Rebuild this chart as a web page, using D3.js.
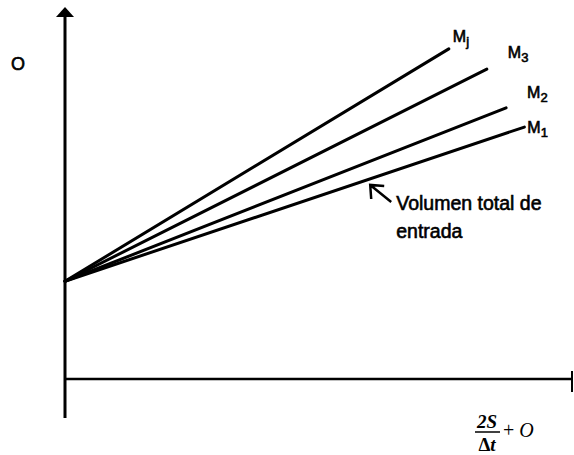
<!DOCTYPE html>
<html>
<head>
<meta charset="utf-8">
<script src="https://cdn.jsdelivr.net/npm/d3@7"></script>
<style>
	html, body { margin: 0; padding: 0; background: #fff; }
	svg { display: block; }
	text { font-family: Arial, "Liberation Sans", sans-serif; fill: #000; }
	.sans { stroke: #000; stroke-width: 0.6; }
	.serif { font-family: "Times New Roman", "Liberation Serif", serif; }
</style>
</head>
<body>
<svg width="574" height="455"></svg>
<script>
'use strict';
// data (arbitrary units: 0..100 on both axes)
let aSeries = ["Mj", "M3", "M2", "M1"]
let aSubs = ["j", "3", "2", "1"]
let aStartX = [0, 0, 0, 0]
let aStartY = [27, 27, 27, 27]
let aEndX = [75.7, 83.2, 87.0, 90.6]
let aEndY = [91.2, 85.6, 74.9, 69.6]
let aNote = ["Volumen total de", "entrada"]
let aNoteAt = [60.2, 53.6] // where the annotation arrow points

// DOM references and script-globals
let eSvg = d3.select("svg"),
	dWidth = +eSvg.attr("width"),
	dHeight = +eSvg.attr("height")

let sX = d3.scaleLinear().domain([0, 100]).range([65, 572])
let sY = d3.scaleLinear().domain([0, 100]).range([379, 17])

// label offsets from the line end, pixels
let aLabOff = [[4, -7], [21, -11], [21, -10], [3, 6]]

// axes
let eAxes = eSvg.append("g").attr("class", "axes")
eAxes.append("line")
	.attr("x1", sX(0)).attr("x2", sX(0))
	.attr("y1", sY(0) + 39).attr("y2", sY(100))
	.attr("stroke", "#000").attr("stroke-width", 3)
eAxes.append("path")
	.attr("d", `M${sX(0) - 9},${sY(100)} L${sX(0) + 9},${sY(100)} L${sX(0)},${sY(100) - 10} Z`)
	.attr("fill", "#000")
eAxes.append("line")
	.attr("x1", sX(0)).attr("x2", sX(100))
	.attr("y1", sY(0)).attr("y2", sY(0))
	.attr("stroke", "#000").attr("stroke-width", 2.5)
eAxes.append("line") // end tick of x axis
	.attr("x1", sX(100)).attr("x2", sX(100))
	.attr("y1", sY(0) - 8).attr("y2", sY(0) + 13)
	.attr("stroke", "#000").attr("stroke-width", 2)

// the M lines
let eLines = eSvg.append("g").attr("class", "lines")
	.selectAll("line")
	.data(aSeries)
	.enter().append("line")
	.attr("x1", (d, i) => sX(aStartX[i]))
	.attr("y1", (d, i) => sY(aStartY[i]))
	.attr("x2", (d, i) => sX(aEndX[i]))
	.attr("y2", (d, i) => sY(aEndY[i]))
	.attr("stroke", "#000").attr("stroke-width", 3)
	.attr("stroke-linecap", "round")

// labels with subscript
let eLabs = eSvg.append("g").attr("class", "labels")
	.selectAll("text")
	.data(aSeries)
	.enter().append("text")
	.attr("class", "sans")
	.attr("x", (d, i) => sX(aEndX[i]) + aLabOff[i][0])
	.attr("y", (d, i) => sY(aEndY[i]) + aLabOff[i][1])
	.attr("font-size", 16)
eLabs.append("tspan").text("M")
eLabs.append("tspan")
	.attr("font-size", 13).attr("dy", 4)
	.text((d, i) => aSubs[i])

// annotation
let pTip = [sX(aNoteAt[0]), sY(aNoteAt[1])]
let eNote = eSvg.append("g").attr("class", "note")
eNote.append("path")
	.attr("d", `M${pTip[0] + 21},${pTip[1] + 17} L${pTip[0]},${pTip[1]}`
		+ ` M${pTip[0] + 14},${pTip[1] + 1} L${pTip[0]},${pTip[1]} L${pTip[0] + 1},${pTip[1] + 14}`)
	.attr("fill", "none").attr("stroke", "#000").attr("stroke-width", 2.5)
eNote.selectAll("text")
	.data(aNote)
	.enter().append("text")
	.attr("class", "sans")
	.attr("x", pTip[0] + 26)
	.attr("y", (d, i) => pTip[1] + 25 + i * 28)
	.attr("font-size", 19.5)
	.text(d => d)

// axis titles
eSvg.append("text")
	.attr("class", "sans")
	.attr("x", 11).attr("y", 70)
	.attr("font-size", 18)
	.text("O")

let eXT = eSvg.append("g")
eXT.append("text").attr("class", "serif")
	.attr("x", 487).attr("y", 428)
	.attr("text-anchor", "middle")
	.attr("font-size", 19).attr("font-weight", "bold").attr("font-style", "italic")
	.text("2S")
eXT.append("line")
	.attr("x1", 475).attr("x2", 500)
	.attr("y1", 432).attr("y2", 432)
	.attr("stroke", "#000").attr("stroke-width", 1.5)
eXT.append("text").attr("class", "serif")
	.attr("x", 487).attr("y", 451)
	.attr("text-anchor", "middle")
	.attr("font-size", 19).attr("font-weight", "bold")
	.html('Δ<tspan font-style="italic">t</tspan>')
eXT.append("text").attr("class", "serif")
	.attr("x", 503).attr("y", 437)
	.attr("font-size", 20)
	.html('+ <tspan font-style="italic">O</tspan>')
</script>
</body>
</html>
